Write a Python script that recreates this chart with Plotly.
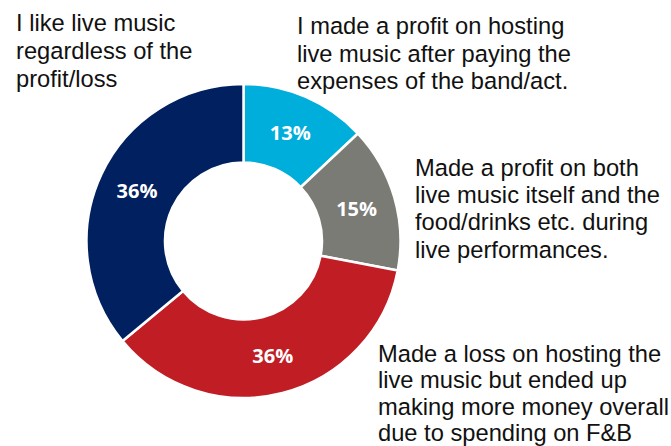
import plotly.graph_objects as go

# Survey responses: how venues feel about hosting live music
categories = [
    "I made a profit on hosting<br>live music after paying the<br>expenses of the band/act.",
    "Made a profit on both<br>live music itself and the<br>food/drinks etc. during<br>live performances.",
    "Made a loss on hosting the<br>live music but ended up<br>making more money overall<br>due to spending on F&B",
    "I like live music<br>regardless of the<br>profit/loss",
]
shares = [13, 15, 36, 36]
colors = ["#00AEDB", "#7B7B76", "#C01D25", "#002060"]

W, H = 671, 446
cx, cy, R = 243.5, 241.0, 157.0

fig = go.Figure(
    go.Pie(
        labels=categories,
        values=shares,
        sort=False,
        direction="clockwise",
        rotation=0,
        hole=0.5,
        marker=dict(colors=colors, line=dict(color="white", width=2.5)),
        textinfo="percent",
        texttemplate="%{percent:.0%}",
        textposition="inside",
        insidetextorientation="horizontal",
        insidetextfont=dict(family="Open Sans", size=20, color="white", weight="bold"),
        hoverinfo="label+percent",
        showlegend=False,
        domain=dict(
            x=[(cx - R) / W, (cx + R) / W],
            y=[(H - cy - R) / H, (H - cy + R) / H],
        ),
    )
)

# Captions around the ring: left edge x, first baseline y, line pitch (pixels).
# Each line is its own annotation so the line pitch can be kept tight.
CAP_SIZE = 23.7
caption_layout = [(296, 34.3, 27.5), (414, 176.0, 27.3), (377, 362.0, 26.5), (15, 31.7, 27.8)]
for text, (px, base, pitch) in zip(categories, caption_layout):
    for i, line in enumerate(text.split("<br>")):
        baseline = base + i * pitch
        mid = baseline - 0.3465 * CAP_SIZE
        fig.add_annotation(
            text=line,
            xref="paper", yref="paper",
            x=px / W, y=1 - mid / H,
            xanchor="left", yanchor="middle",
            align="left",
            showarrow=False,
            borderpad=0,
            font=dict(family="Arial", size=CAP_SIZE, color="#111111"),
        )

fig.update_layout(
    width=W, height=H,
    margin=dict(l=0, r=0, t=0, b=0),
    paper_bgcolor="white",
    plot_bgcolor="white",
)

fig.write_html("out.html")
